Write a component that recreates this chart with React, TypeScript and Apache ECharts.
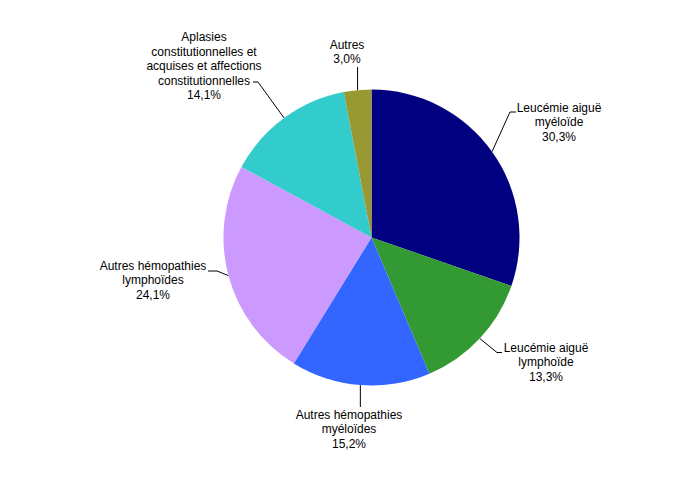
import React, { useEffect, useRef } from "react";
import * as echarts from "echarts";

const categories: string[] = [
  "Leucémie aiguë\nmyéloïde",
  "Leucémie aiguë\nlymphoïde",
  "Autres hémopathies\nmyéloïdes",
  "Autres hémopathies\nlymphoïdes",
  "Aplasies\nconstitutionnelles et\nacquises et affections\nconstitutionnelles",
  "Autres",
];
const values: number[] = [30.3, 13.3, 15.2, 24.1, 14.1, 3.0];
const colors: string[] = ["#000080", "#339933", "#3366FF", "#CC99FF", "#33CCCC", "#999933"];

// label layout (positions of text blocks and of leader-line ends)
const labelPos: [number, number][] = [
  [559, 122],
  [546, 362],
  [349, 429],
  [153, 280],
  [204, 66],
  [347, 52],
];
// [bendX | null (vertical), bendY, endX | null (vertical)]
const lineBend: [number | null, number, number | null][] = [
  [510, 112, 516],
  [497, 352.5, 502],
  [null, 407, null],
  [217, 271, 208],
  [258, 82, 253],
  [null, 67, null],
];

export default function App() {
  const ref = useRef<HTMLDivElement>(null);
  useEffect(() => {
    if (!ref.current) return;
    const chart = echarts.init(ref.current, undefined, { renderer: "svg" });
    chart.setOption({
      animation: false,
      backgroundColor: "#ffffff",
      series: [
        {
          type: "pie",
          center: [371.5, 237.5],
          radius: 148,
          startAngle: 90,
          clockwise: true,
          avoidLabelOverlap: false,
          data: categories.map((name, i) => ({
            name,
            value: values[i],
            itemStyle: { color: colors[i] },
          })),
          itemStyle: { borderWidth: 0 },
          emphasis: { disabled: true },
          label: {
            show: true,
            position: "outside",
            color: "#000000",
            fontFamily: "Liberation Sans, Arial, sans-serif",
            fontSize: 12,
            lineHeight: 14.5,
            align: "center",
            formatter: (p: any) =>
              `${p.name}\n${Number(p.value).toFixed(1).replace(".", ",")}%`,
          },
          labelLine: {
            show: true,
            length: 12,
            length2: 6,
            lineStyle: { color: "#000000", width: 1 },
          },
          labelLayout: (params: any) => {
            const i = params.dataIndex;
            const pos = labelPos[i];
            const out: any = {
              x: pos[0],
              y: pos[1],
              align: "center",
              verticalAlign: "middle",
            };
            const pts = params.labelLinePoints;
            if (pts && pts[0]) {
              const a: [number, number] = [pts[0][0], pts[0][1]];
              const b = lineBend[i];
              const bx = b[0] == null ? a[0] : b[0];
              const ex = b[2] == null ? a[0] : b[2];
              out.labelLinePoints = [a, [bx, b[1]], [ex, b[1]]];
            }
            return out;
          },
        },
      ],
    });
    return () => chart.dispose();
  }, []);
  return (
    <div
      ref={ref}
      style={{ position: "fixed", left: 0, top: 0, width: 699, height: 480, background: "#fff" }}
    />
  );
}
